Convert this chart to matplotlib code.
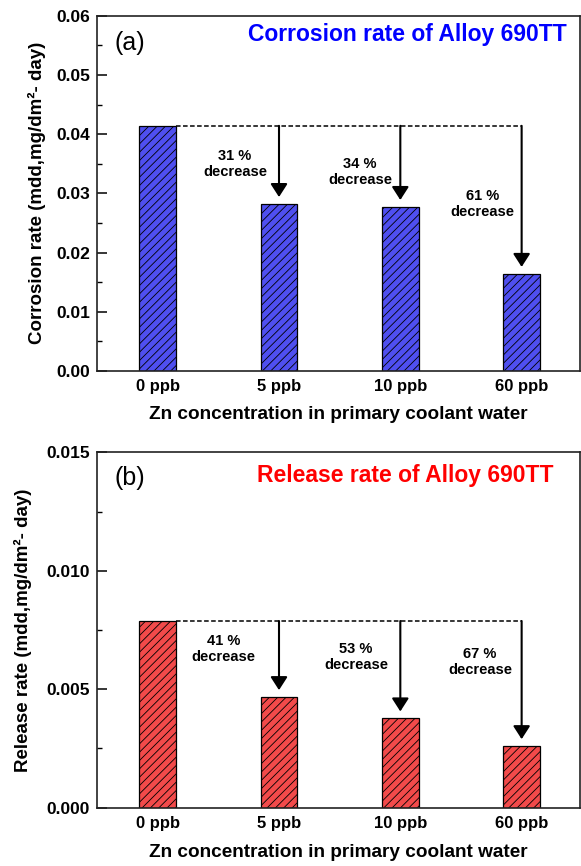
import matplotlib
matplotlib.use("Agg")
import matplotlib.pyplot as plt
from matplotlib.ticker import MultipleLocator, FormatStrFormatter
import numpy as np

plt.rcParams['font.family'] = ['Liberation Sans', 'DejaVu Sans']
plt.rcParams['font.weight'] = 'bold'
plt.rcParams['hatch.linewidth'] = 0.6

# ---- data ----
CONCENTRATIONS = ['0 ppb', '5 ppb', '10 ppb', '60 ppb']
CORROSION_RATE = [0.0414, 0.0282, 0.0277, 0.0164]      # mdd
RELEASE_RATE = [0.00788, 0.00467, 0.00377, 0.00260]     # mdd
CORROSION_DROP = ['31 %', '34 %', '61 %']
RELEASE_DROP = ['41 %', '53 %', '67 %']

XLABEL = 'Zn concentration in primary coolant water'
BAR_W = 0.3


def panel(ax, values, drops, fill, title, title_color, tag, ylabel,
          ymax, major, fmt, text_xy, title_y, tag_y, ylab_x, xlab_y, title_x):
    x = np.arange(len(values))
    ax.bar(x, values, width=BAR_W, color=fill, edgecolor='black',
           linewidth=0.9, hatch='////', zorder=2)

    # dashed reference level from the 0 ppb bar
    ax.plot([x[0] + BAR_W / 2, x[-1]], [values[0], values[0]],
            ls=(0, (3, 1.6)), color='black', lw=1.1, zorder=3)
    for xi, v in zip(x[1:], values[1:]):
        ax.annotate('', xy=(xi, v), xytext=(xi, values[0]),
                    arrowprops=dict(arrowstyle='-|>,head_length=0.42,head_width=0.27',
                                    mutation_scale=19, color='black', lw=1.5,
                                    shrinkA=0, shrinkB=5), zorder=3)
    for (tx, ty), d in zip(text_xy, drops):
        ax.text(tx, ty, f'{d}\ndecrease', ha='center', va='center',
                fontsize=10.5, fontweight='bold', linespacing=1.2)

    ax.text(title_x, title_y, title, transform=ax.transAxes, ha='right',
            va='center', color=title_color, fontsize=16.5, fontweight='bold')
    ax.text(0.068, tag_y, tag, transform=ax.transAxes, ha='center',
            va='center', fontsize=18, fontweight='normal')

    ax.set_xlim(-0.5, 3.485)
    ax.set_ylim(0, ymax)
    ax.set_xticks(x)
    ax.set_xticklabels(CONCENTRATIONS)
    ax.yaxis.set_major_locator(MultipleLocator(major))
    ax.yaxis.set_minor_locator(MultipleLocator(major / 2))
    ax.yaxis.set_major_formatter(FormatStrFormatter(fmt))
    ax.tick_params(axis='y', which='major', direction='in', length=7,
                   width=1.1, labelsize=12.5, pad=5)
    ax.tick_params(axis='y', which='minor', direction='in', length=3.5, width=1.0)
    ax.tick_params(axis='x', direction='in', length=0, labelsize=12, pad=6)
    for s in ax.spines.values():
        s.set_linewidth(1.2)
        s.set_color('#222222')

    ax.set_ylabel(ylabel, fontsize=13.5, fontweight='bold')
    ax.yaxis.set_label_coords(ylab_x, 0.5)
    ax.set_xlabel(XLABEL, fontsize=13.7, fontweight='bold')
    ax.xaxis.set_label_coords(0.5, xlab_y)


fig = plt.figure(figsize=(5.81, 8.66), dpi=100)
ax1 = fig.add_axes([0.1670, 0.5716, 0.8321, 0.4103])
ax2 = fig.add_axes([0.1670, 0.0673, 0.8321, 0.4104])

panel(ax1, CORROSION_RATE, CORROSION_DROP, '#4f4ff0',
      'Corrosion rate of Alloy 690TT', '#0000ff', '(a)',
      'Corrosion rate (mdd,mg/dm²- day)', 0.06, 0.01, '%.2f',
      [(0.637, 0.0350), (1.668, 0.0336), (2.68, 0.0282)],
      0.946, 0.923, -0.105, -0.0985, 0.972)

panel(ax2, RELEASE_RATE, RELEASE_DROP, '#f24a4a',
      'Release rate of Alloy 690TT', '#ff0000', '(b)',
      'Release rate (mdd,mg/dm²- day)', 0.015, 0.005, '%.3f',
      [(0.54, 0.0067), (1.635, 0.00636), (2.657, 0.00615)],
      0.936, 0.928, -0.134, -0.103, 0.945)

fig.savefig('out.png', dpi=100)
